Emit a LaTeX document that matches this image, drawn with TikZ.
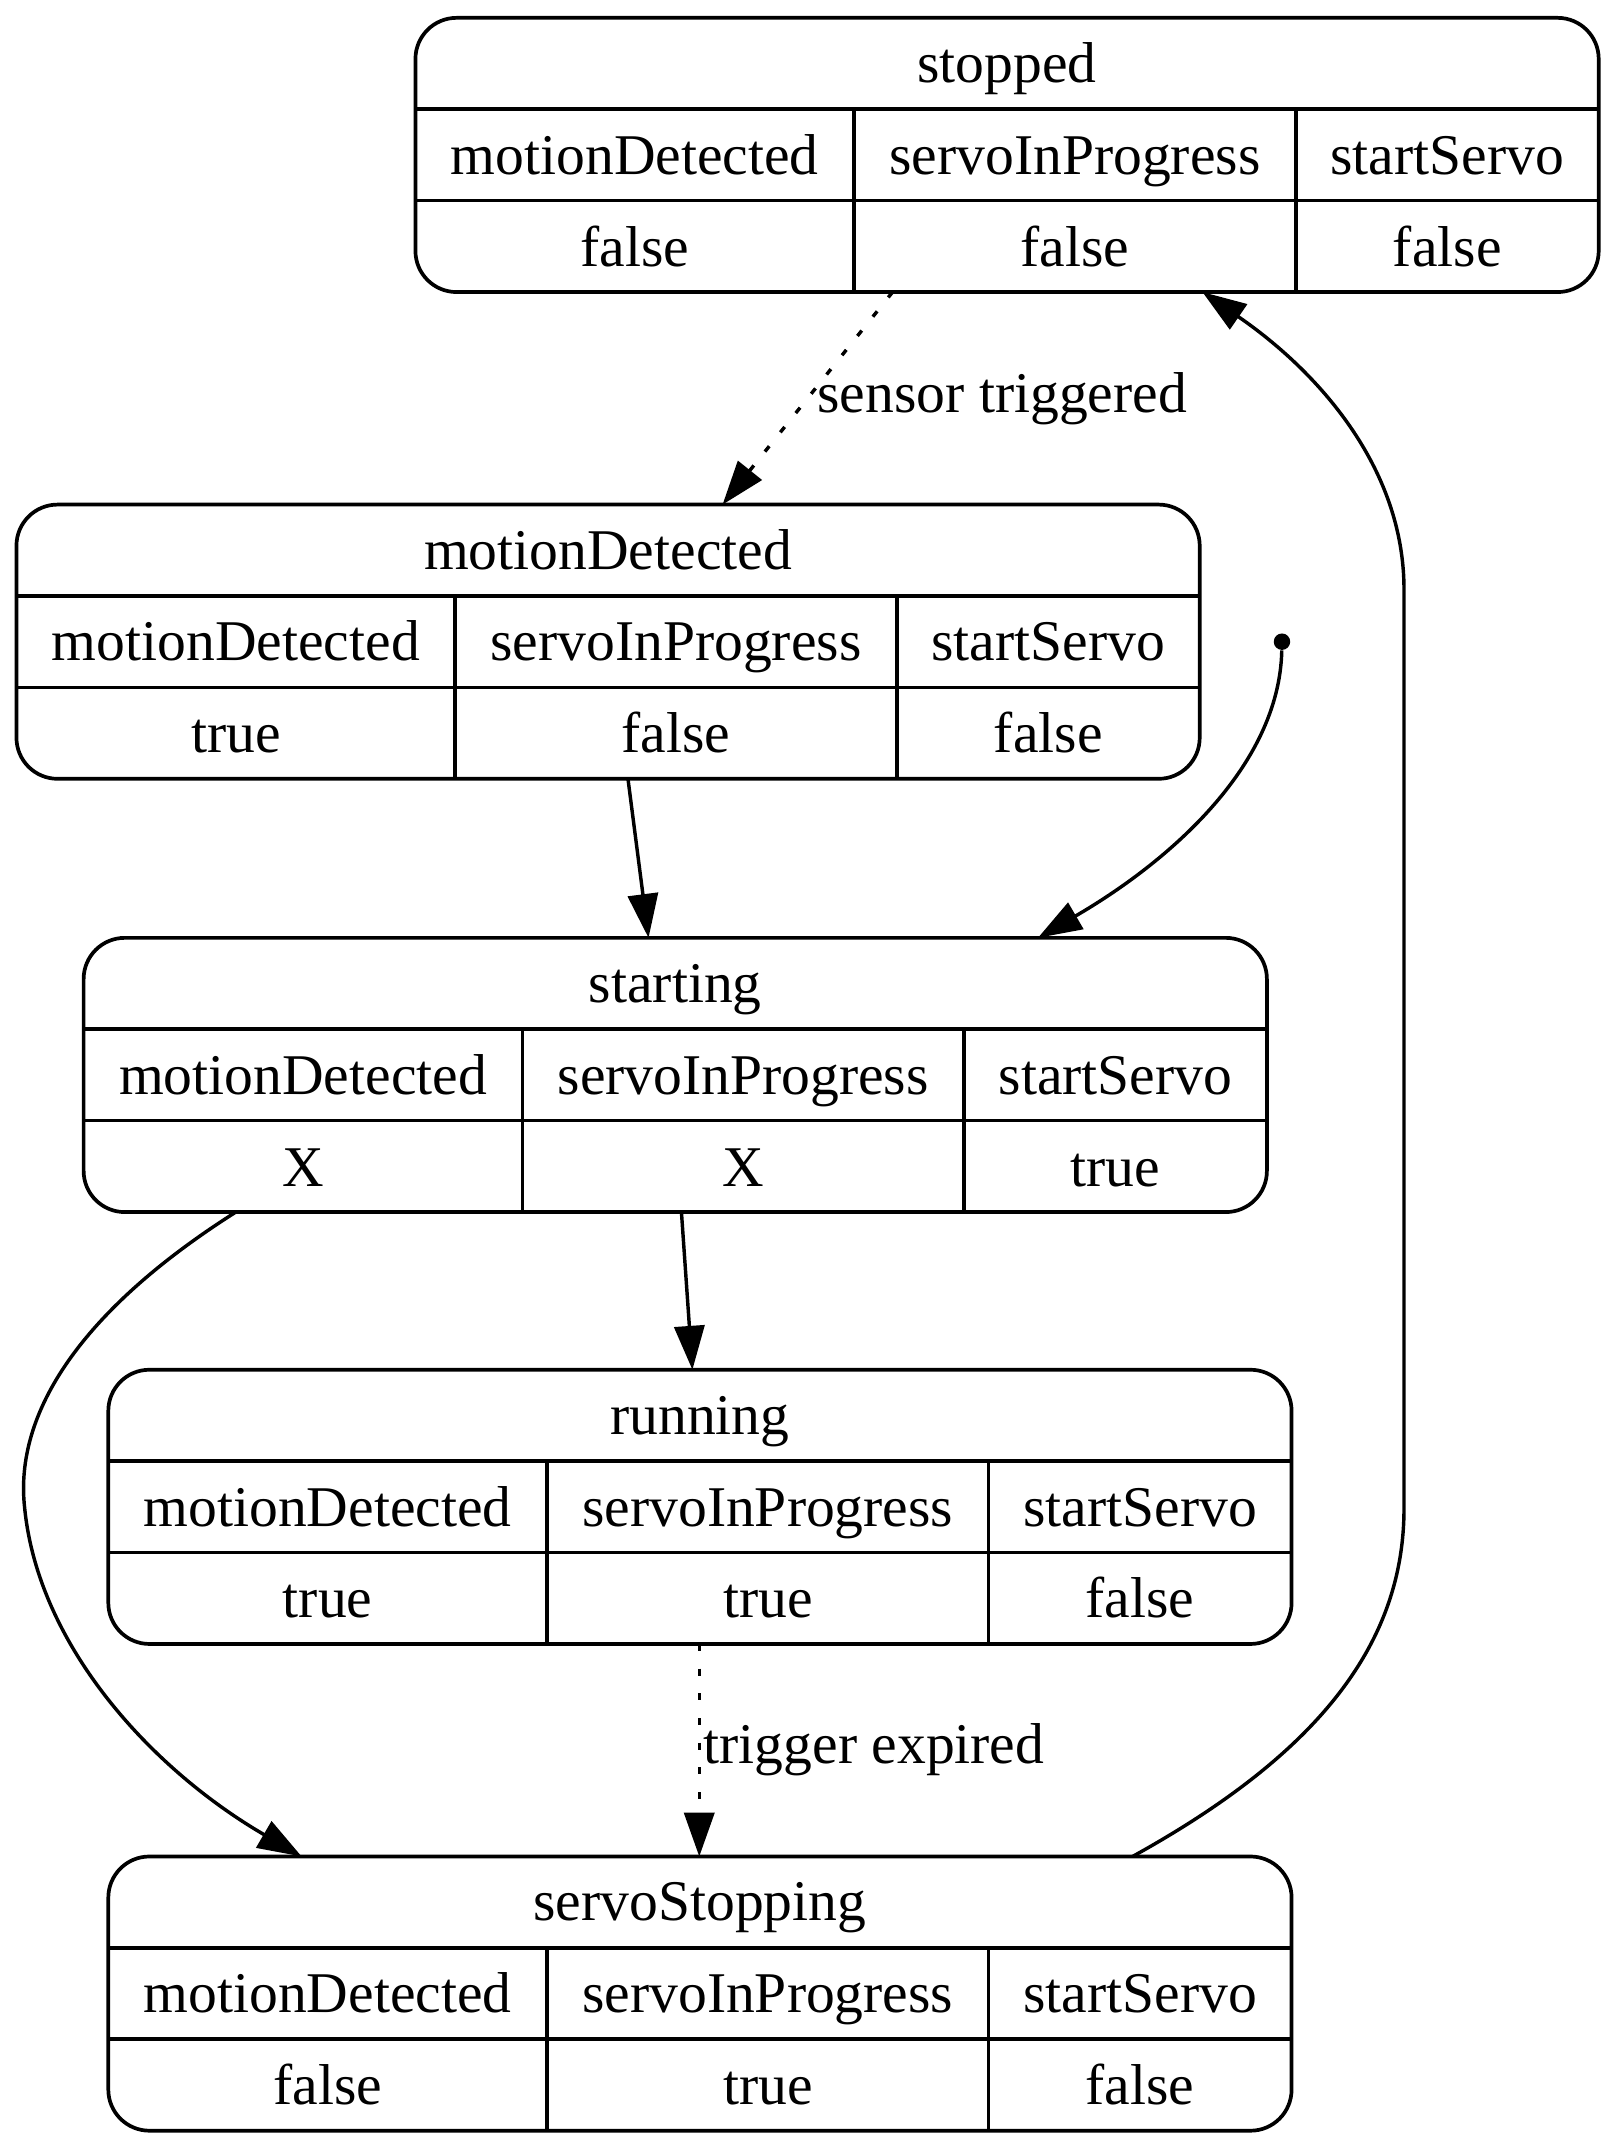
\documentclass[tikz,border=0pt]{standalone}
\usepackage{fontspec}
\setmainfont{Liberation Serif}
\usetikzlibrary{arrows.meta,positioning,calc}

\newcommand{\statenode}[7]{%
\begin{scope}[shift={(#2,#3)}]%
\node[statebox] (#1) at (431.5,100) {};%
\draw[sepline] (0,66.7) -- (863,66.7) (0,133.3) -- (863,133.3) (320,66.7) -- (320,200) (642,66.7) -- (642,200);%
\node[celltext] (#1-title) at (431.5,47) {#4};%
\node[celltext] (#1-h1) at (160,114) {motionDetected};%
\node[celltext] (#1-h2) at (481,114) {servoInProgress};%
\node[celltext] (#1-h3) at (752.5,114) {startServo};%
\node[celltext] (#1-v1) at (160,181) {#5};%
\node[celltext] (#1-v2) at (481,181) {#6};%
\node[celltext] (#1-v3) at (752.5,181) {#7};%
\end{scope}}

\begin{document}
\begin{tikzpicture}[x=0.5pt,y=-0.5pt,
statebox/.style={draw,rectangle,rounded corners=15pt,minimum width=431.5pt,minimum height=100pt,line width=1.35pt,outer sep=0pt,inner sep=0pt},
sepline/.style={line width=1.35pt},
celltext/.style={anchor=base,inner sep=0pt,font=\fontsize{21}{25}\selectfont},
edgelabel/.style={inner sep=1pt,font=\fontsize{21}{25}\selectfont},
arrowedge/.style={line width=1.25pt,-{Triangle[length=16pt,width=11pt]}},
dotline/.style={dash pattern=on 2.5pt off 6.5pt},
initdot/.style={circle,fill,inner sep=0pt,minimum size=6pt}]%
\useasboundingbox (0,0) rectangle (1180,1571);%
\statenode{stopped}{303}{13}{stopped}{false}{false}{false}%
\statenode{motionDetected}{12}{368}{motionDetected}{true}{false}{false}%
\statenode{starting}{61}{684}{starting}{X}{X}{true}%
\statenode{running}{79}{999}{running}{true}{true}{false}%
\statenode{servoStopping}{79}{1354}{servoStopping}{false}{true}{false}%
\node[initdot] (init) at (935,468) {};%
% transitions
\draw[arrowedge,dotline] (stopped.south -| 651,0) -- node[edgelabel,right=2pt] (sensor) {sensor triggered} (motionDetected.north -| 527,0);%
\draw[arrowedge] (motionDetected.south -| 458,0) -- (starting.north -| 473,0);%
\draw[arrowedge] (init) .. controls (933,560) and (850,630) .. (starting.north -| 757,0);%
\draw[arrowedge] (starting.south -| 497,0) -- (running.north -| 505,0);%
\draw[arrowedge] (starting.south -| 172,0) .. controls (60,955) and (10,1030) .. (18,1100) .. controls (28,1200) and (110,1290) .. (servoStopping.north -| 220,0);%
\draw[arrowedge,dotline] (running.south -| 510,0) -- node[edgelabel,right] (expired) {trigger expired} (servoStopping.north -| 510,0);%
\draw[arrowedge] (servoStopping.north -| 826,0) .. controls (960,1280) and (1024,1200) .. (1024,1100) -- (1024,430) .. controls (1024,340) and (960,270) .. (stopped.south -| 877,0);%
\end{tikzpicture}
\end{document}
